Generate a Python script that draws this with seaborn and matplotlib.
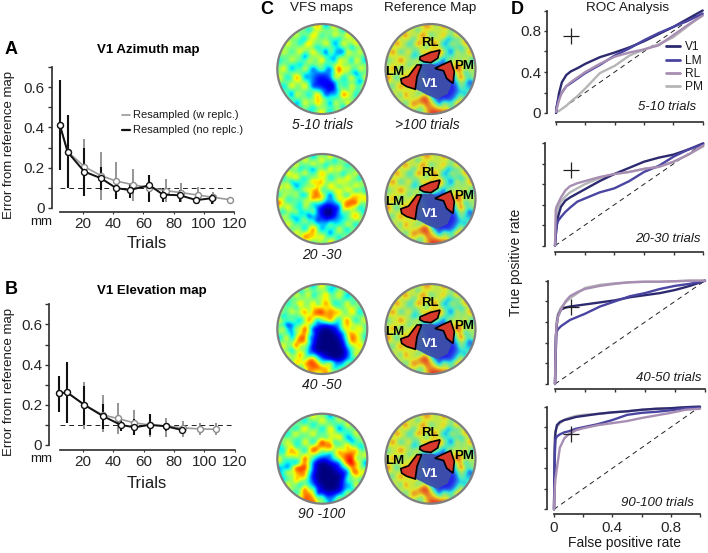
import numpy as np
import pandas as pd
import matplotlib
matplotlib.use("Agg")
import matplotlib.pyplot as plt
from matplotlib.colors import ListedColormap
from matplotlib.lines import Line2D
from matplotlib.patches import Circle, Polygon
import seaborn as sns

W, H = 708, 553

# panel A, values
a_black_x = [5, 10, 21, 32, 42, 51, 64, 73, 84, 95, 105]
a_black_y = [0.41, 0.278, 0.18, 0.147, 0.098, 0.088, 0.112, 0.065, 0.062, 0.038, 0.047]
a_black_lo = [0.19, 0.10, 0.06, 0.09, 0.045, 0.05, 0.03, 0.03, 0.03, 0.02, 0.02]
a_black_hi = [0.635, 0.46, 0.30, 0.205, 0.14, 0.12, 0.165, 0.10, 0.09, 0.06, 0.07]
a_gray_x = [5, 10, 21, 32, 42, 53, 64, 75, 85, 96, 106, 117]
a_gray_y = [0.41, 0.28, 0.205, 0.16, 0.133, 0.115, 0.10, 0.085, 0.075, 0.063, 0.052, 0.04]
a_gray_lo = [0.19, 0.10, 0.06, 0.04, 0.05, 0.035, 0.03, 0.03, 0.03, 0.02, 0.02, 0.02]
a_gray_hi = [0.63, 0.46, 0.345, 0.28, 0.23, 0.195, 0.15, 0.145, 0.125, 0.105, 0.08, 0.055]

# panel B
b_black_x = [4.6, 9.6, 21, 33, 45, 54, 64, 75, 85]
b_black_y = [0.257, 0.262, 0.20, 0.145, 0.10, 0.088, 0.10, 0.093, 0.075]
b_black_lo = [0.165, 0.11, 0.10, 0.08, 0.07, 0.05, 0.05, 0.07, 0.06]
b_black_hi = [0.345, 0.415, 0.295, 0.205, 0.13, 0.13, 0.155, 0.11, 0.09]
b_gray_x = [4.6, 9.6, 21, 33, 43, 54, 64, 75, 86, 97, 108]
b_gray_y = [0.257, 0.262, 0.20, 0.15, 0.132, 0.11, 0.10, 0.095, 0.085, 0.08, 0.078]
b_gray_lo = [0.165, 0.11, 0.08, 0.065, 0.055, 0.05, 0.04, 0.04, 0.04, 0.05, 0.05]
b_gray_hi = [0.345, 0.415, 0.315, 0.25, 0.208, 0.175, 0.15, 0.135, 0.12, 0.11, 0.11]

# panel D, one false positive grid for all the curves
fpr = [0, .005, .01, .02, .04, .07, .1, .15, .2, .3, .4, .5, .6, .7, .8, .9, 1]

roc1_v1 = [0, .05, .1, .19, .3, .37, .405, .44, .48, .545, .59, .64, .70, .77, .84, .92, 1.0]
roc1_lm = [.03, .07, .1, .15, .2, .26, .29, .34, .39, .47, .56, .63, .71, .78, .84, .9, .97]
roc1_rl = [.01, .04, .07, .12, .2, .26, .3, .35, .4, .48, .55, .59, .62, .66, .76, .86, .95]
roc1_pm = [0, .01, .015, .02, .04, .07, .11, .17, .24, .39, .46, .56, .62, .67, .74, .85, .96]

roc2_v1 = [0, .1, .17, .28, .38, .44, .47, .51, .55, .63, .7, .76, .82, .86, .89, .94, 1]
roc2_lm = [0, .1, .2, .24, .28, .33, .37, .43, .46, .52, .56, .63, .72, .78, .87, .94, .99]
roc2_rl = [0, .35, .38, .41, .47, .54, .58, .61, .63, .67, .70, .72, .75, .77, .82, .89, .98]
roc2_pm = [0, .15, .3, .37, .43, .48, .52, .56, .6, .66, .7, .72, .75, .77, .82, .89, .97]

roc3_v1 = [0, .45, .55, .66, .72, .74, .75, .76, .77, .79, .81, .84, .86, .88, .91, .95, 1]
roc3_lm = [0, .3, .5, .53, .56, .59, .62, .65, .68, .75, .8, .85, .88, .92, .95, .97, 1]
roc3_rl = [0, .4, .57, .65, .72, .8, .85, .89, .92, .95, .97, .985, .99, .99, .995, 1, 1]
roc3_pm = [0, .35, .6, .68, .74, .79, .83, .88, .93, .96, .975, .985, .99, .99, .995, 1, 1]

roc4_v1 = [0, .6, .75, .82, .85, .87, .88, .9, .91, .93, .945, .955, .97, .98, .985, .995, 1]
roc4_lm = [0, .5, .68, .71, .73, .75, .76, .785, .8, .83, .87, .92, .94, .95, .965, .985, .99]
roc4_rl = [0, .2, .3, .4, .6, .69, .73, .77, .79, .82, .84, .86, .89, .915, .94, .97, .98]
roc4_pm = [0, .7, .76, .8, .84, .87, .89, .91, .92, .93, .945, .955, .97, .98, .985, .995, 1]

roc_cross = [(.1, .753), (.105, .74), (.105, .75), (.116, .734)]
roc_titles = ["5-10 trials", "20-30 trials", "40-50 trials", "90-100 trials"]

# panel C, coarse reading of the maps: 0 deep blue .. 9 dark red
map_5_10 = [
    [4, 4, 4, 4, 4, 5, 5, 4, 5, 4, 4, 4, 4, 4],
    [4, 4, 4, 4, 5, 4, 6, 5, 4, 5, 5, 4, 4, 4],
    [4, 4, 5, 4, 4, 6, 4, 5, 3, 5, 4, 6, 4, 4],
    [4, 5, 4, 5, 6, 4, 5, 4, 5, 3, 5, 4, 5, 4],
    [4, 4, 6, 4, 4, 5, 4, 3, 3, 2, 4, 5, 4, 4],
    [5, 4, 4, 5, 3, 4, 7, 4, 3, 4, 6, 4, 5, 4],
    [4, 5, 3, 4, 5, 4, 5, 3, 5, 6, 4, 5, 4, 5],
    [5, 4, 5, 4, 3, 3, 2, 2, 3, 7, 5, 3, 4, 4],
    [4, 5, 4, 7, 4, 2, 1, 1, 2, 5, 4, 5, 3, 4],
    [5, 4, 5, 4, 5, 3, 1, 1, 0, 3, 3, 4, 4, 5],
    [4, 4, 3, 5, 4, 5, 4, 2, 1, 3, 8, 6, 3, 4],
    [4, 5, 4, 4, 5, 4, 7, 4, 4, 4, 5, 4, 5, 4],
    [4, 4, 5, 3, 4, 5, 4, 5, 3, 5, 4, 5, 4, 4],
    [4, 4, 4, 4, 5, 4, 5, 4, 5, 4, 4, 4, 4, 4],
]
map_20_30 = [
    [4, 4, 4, 4, 5, 4, 5, 4, 5, 4, 4, 4, 4, 4],
    [4, 4, 5, 4, 4, 5, 4, 5, 4, 5, 4, 5, 4, 4],
    [4, 5, 4, 5, 4, 3, 5, 4, 5, 4, 5, 4, 4, 4],
    [5, 4, 6, 4, 5, 4, 5, 6, 4, 5, 4, 5, 4, 4],
    [4, 5, 4, 3, 4, 5, 6, 4, 5, 4, 6, 4, 5, 4],
    [5, 4, 5, 4, 4, 7, 7, 4, 5, 7, 4, 5, 4, 5],
    [5, 6, 4, 3, 4, 6, 8, 4, 3, 6, 4, 6, 7, 5],
    [6, 5, 4, 5, 6, 5, 4, 2, 2, 3, 7, 8, 5, 4],
    [5, 4, 5, 2, 3, 4, 1, 0, 0, 2, 8, 5, 4, 5],
    [4, 6, 4, 3, 4, 3, 2, 0, 0, 2, 3, 6, 5, 4],
    [5, 4, 5, 4, 3, 4, 3, 2, 3, 3, 4, 4, 5, 4],
    [4, 5, 4, 5, 4, 6, 4, 4, 3, 4, 4, 5, 4, 5],
    [4, 4, 5, 4, 7, 7, 5, 4, 4, 5, 4, 4, 5, 4],
    [4, 4, 4, 5, 4, 6, 5, 4, 5, 4, 5, 4, 4, 4],
]
map_40_50 = [
    [4, 4, 4, 4, 5, 4, 5, 4, 4, 5, 4, 4, 4, 4],
    [4, 4, 4, 5, 4, 5, 4, 5, 4, 4, 5, 4, 4, 4],
    [4, 5, 4, 4, 5, 4, 5, 6, 4, 5, 3, 4, 5, 4],
    [4, 4, 5, 6, 4, 5, 6, 5, 6, 3, 5, 6, 4, 4],
    [5, 4, 4, 5, 6, 7, 8, 6, 8, 5, 4, 5, 4, 5],
    [4, 5, 3, 4, 5, 6, 5, 7, 6, 5, 6, 4, 5, 4],
    [4, 3, 2, 4, 6, 4, 1, 0, 1, 2, 7, 6, 5, 4],
    [5, 4, 2, 5, 7, 3, 0, 0, 0, 1, 6, 7, 5, 4],
    [4, 5, 4, 8, 8, 2, 0, 0, 0, 0, 2, 8, 6, 5],
    [5, 4, 5, 7, 5, 1, 0, 0, 0, 0, 1, 7, 5, 4],
    [4, 5, 4, 5, 4, 1, 0, 0, 0, 0, 0, 3, 6, 4],
    [4, 4, 5, 6, 6, 8, 3, 1, 0, 0, 1, 4, 3, 4],
    [4, 5, 4, 5, 7, 8, 8, 7, 5, 3, 4, 3, 2, 4],
    [4, 4, 4, 5, 4, 6, 7, 5, 5, 5, 4, 5, 4, 4],
]
map_90_100 = [
    [4, 4, 4, 4, 5, 4, 5, 4, 4, 5, 4, 4, 4, 4],
    [4, 4, 5, 4, 4, 5, 4, 5, 4, 3, 5, 4, 4, 4],
    [4, 5, 4, 5, 5, 4, 5, 4, 5, 4, 3, 5, 4, 4],
    [4, 4, 5, 4, 4, 5, 3, 5, 6, 5, 4, 3, 5, 4],
    [5, 4, 4, 3, 5, 4, 6, 7, 6, 4, 5, 4, 4, 5],
    [4, 5, 8, 5, 4, 7, 8, 7, 5, 4, 5, 6, 4, 4],
    [4, 4, 5, 4, 6, 5, 3, 2, 4, 7, 8, 8, 5, 4],
    [5, 3, 3, 4, 7, 3, 0, 0, 1, 2, 7, 9, 6, 4],
    [4, 3, 5, 8, 9, 2, 0, 0, 0, 1, 2, 7, 5, 4],
    [2, 4, 5, 7, 5, 1, 0, 0, 0, 0, 1, 7, 6, 5],
    [4, 5, 4, 5, 4, 2, 0, 0, 0, 0, 2, 3, 5, 4],
    [4, 4, 5, 4, 6, 3, 1, 0, 0, 0, 3, 3, 5, 4],
    [4, 5, 4, 5, 8, 8, 3, 1, 1, 2, 4, 4, 5, 4],
    [4, 4, 5, 4, 7, 6, 5, 4, 4, 5, 4, 4, 4, 4],
]
map_reference = [
    [5, 5, 5, 5, 5, 6, 5, 7, 5, 6, 5, 5, 5, 5],
    [5, 5, 6, 5, 6, 5, 6, 5, 5, 5, 6, 5, 5, 5],
    [5, 6, 5, 6, 5, 6, 6, 5, 6, 4, 3, 5, 6, 5],
    [5, 5, 6, 4, 5, 6, 5, 6, 4, 3, 4, 5, 5, 5],
    [5, 6, 5, 5, 3, 4, 7, 7, 7, 3, 4, 4, 5, 6],
    [6, 5, 6, 5, 5, 3, 6, 6, 4, 3, 5, 6, 4, 5],
    [5, 6, 5, 6, 5, 4, 2, 1, 1, 3, 7, 7, 3, 5],
    [5, 5, 6, 5, 6, 5, 1, 1, 1, 1, 4, 7, 4, 5],
    [6, 5, 5, 6, 7, 5, 1, 1, 1, 1, 2, 7, 4, 3],
    [5, 6, 5, 6, 5, 5, 1, 1, 1, 1, 1, 3, 3, 2],
    [5, 5, 6, 5, 6, 5, 1, 1, 1, 1, 1, 3, 4, 3],
    [5, 6, 5, 6, 5, 8, 8, 2, 1, 1, 2, 6, 4, 5],
    [5, 5, 6, 5, 6, 6, 8, 6, 4, 5, 5, 6, 5, 5],
    [5, 5, 5, 6, 5, 5, 6, 8, 8, 6, 5, 5, 5, 5],
]
# small round spots of the background, hand placed, on a finer grid
map_spots = [
    [0, 1, 0, -1, 0, 1, 0, 0, 0, 1, 0, -1, 0, 1, 0, 0, 0, 1, 0, -1, 0],
    [0, 0, 0, 0, 0, 0, 0, -1, 0, 0, 0, 0, 0, 0, 0, -1, 0, 0, 0, 0, 0],
    [1, 0, -1, 0, 1, 0, 0, 0, 1, 0, -1, 0, 0, 1, 0, 0, 1, 0, -1, 0, 1],
    [0, 0, 0, 0, 0, 0, -1, 0, 0, 0, 0, 0, 0, 0, -1, 0, 0, 0, 0, 0, 0],
    [-1, 0, 1, 0, 0, -1, 0, 1, 0, 0, 0, 1, 0, -1, 0, 1, 0, 0, 1, 0, -1],
    [0, 0, 0, 0, 0, 0, 0, 0, 0, -1, 0, 0, 0, 0, 0, 0, 0, -1, 0, 0, 0],
    [0, 1, 0, -1, 0, 1, 0, 0, 1, 0, 0, -1, 1, 0, 0, -1, 1, 0, 0, 1, 0],
    [0, 0, 0, 0, 0, 0, -1, 0, 0, 0, 0, 0, 0, 0, 0, 0, 0, 0, 0, 0, 0],
    [-1, 0, 0, 1, 0, 0, 0, 1, 0, -1, 1, 0, 0, -1, 1, 0, 0, -1, 1, 0, -1],
    [0, 0, 0, 0, 0, -1, 0, 0, 0, 0, 0, 0, 0, 0, 0, 0, 0, 0, 0, 0, 0],
    [0, 1, 0, -1, 0, 0, 1, 0, -1, 0, 1, 0, -1, 0, 1, 0, 1, 0, 0, 1, 0],
    [0, 0, 0, 0, 0, 0, 0, 0, 0, 0, 0, 0, 0, 0, 0, 0, 0, 0, -1, 0, 0],
    [1, 0, -1, 0, 1, 0, -1, 0, 1, 0, 0, -1, 0, 1, 0, -1, 0, 1, 0, 0, 1],
    [0, 0, 0, 0, 0, 0, 0, 0, 0, 0, 0, 0, 0, 0, 0, 0, 0, 0, 0, -1, 0],
    [0, -1, 0, 1, 0, 0, 1, 0, -1, 0, 1, 0, 0, -1, 1, 0, 0, 1, 0, 0, 1],
    [0, 0, 0, 0, 0, 0, 0, 0, 0, 0, 0, 0, 0, 0, 0, 0, -1, 0, 0, 0, 0],
    [1, 0, 0, -1, 1, 0, 0, -1, 0, 1, 0, -1, 1, 0, 0, 1, 0, 0, -1, 1, 0],
    [0, 0, 0, 0, 0, 0, 0, 0, 0, 0, 0, 0, 0, 0, 0, 0, 0, 0, 0, 0, 0],
    [0, 1, 0, 0, -1, 0, 1, 0, 0, 1, 0, 0, -1, 1, 0, 0, 1, 0, 1, 0, -1],
    [0, 0, 0, 0, 0, 0, 0, 0, -1, 0, 0, 0, 0, 0, 0, -1, 0, 0, 0, 0, 0],
    [-1, 0, 1, 0, 0, 1, 0, -1, 0, 0, 1, 0, -1, 0, 1, 0, 0, 1, 0, -1, 0],
]
map_rows = [map_5_10, map_20_30, map_40_50, map_90_100]
map_captions = ["5-10 trials", "20 -30", "40 -50", "90 -100"]

# areas on the reference map, in fractions of the circle radius
v1_area = [(-.19, -.09), (.03, -.09), (.25, .02), (.33, .24), (.44, .35), (.36, .54), (.14, .64),
           (-.08, .55), (-.2, .48), (-.32, .43), (-.29, .17)]
rl_area = [(-.23, -.27), (0, -.37), (.21, -.42), (.16, -.24), (.01, -.14), (-.15, -.16), (-.24, -.21)]
pm_area = [(.10, -.01), (.25, -.09), (.45, -.18), (.53, .06), (.50, .32), (.36, .21), (.29, .04)]
lm_area = [(-.66, .22), (-.49, .16), (-.30, -.09), (-.20, -.09), (-.30, .17), (-.34, .45), (-.53, .39), (-.64, .32)]

COL_V1 = "#2d2a70"
COL_LM = "#4b45a2"
COL_RL = "#a78eb2"
COL_PM = "#b6b6b6"

sns.set_theme(style="ticks")
plt.rcParams['font.family'] = ['Liberation Sans', 'DejaVu Sans']
plt.rcParams['text.color'] = '#1a1a1a'

fig = plt.figure(figsize=(W / 100, H / 100), dpi=100)


def px_axes(left, top, right, bottom):
    return fig.add_axes([left / W, 1 - bottom / H, (right - left) / W, (bottom - top) / H])


def put(x, y, s, **kw):
    kw.setdefault("ha", "center")
    kw.setdefault("va", "center")
    fig.text(x / W, 1 - y / H, s, **kw)


def error_panel(ax, black, gray, dash_end):
    gx, gy, glo, ghi = gray
    kx, ky, klo, khi = black
    ax.vlines(gx, glo, ghi, color="#8c8c8c", lw=1.3, clip_on=False)
    ax.vlines(kx, klo, khi, color="#111111", lw=1.5, clip_on=False)
    ax.plot([ax.get_xlim()[0], dash_end], [0.1, 0.1], color="#222222", lw=0.7, ls=(0, (5, 4)))
    sns.lineplot(x=gx, y=gy, ax=ax, color="#9a9a9a", lw=1.2, marker="o", ms=4.3, sort=False,
                 markerfacecolor="white", markeredgecolor="#8c8c8c", markeredgewidth=1, clip_on=False)
    sns.lineplot(x=kx, y=ky, ax=ax, color="#111111", lw=1.4, marker="o", ms=4.3, sort=False,
                 markerfacecolor="white", markeredgecolor="#111111", markeredgewidth=1, clip_on=False)
    ax.set_ylim(0, 0.7)
    ax.set_yticks(np.arange(0, 0.71, 0.1))
    ax.set_yticklabels(["0", "", "0.2", "", "0.4", "", "0.6", ""], fontsize=10)
    ax.set_xticks([20, 40, 60, 80, 100, 120])
    ax.set_xticklabels(["20", "40", "60", "80", "100", "120"], fontsize=10)
    ax.tick_params(axis="y", length=3, width=1, pad=2, color="#333333")
    ax.tick_params(axis="x", length=1.5, width=0.8, pad=2, color="#333333")
    ax.set_xlabel("")
    ax.set_ylabel("")
    sns.despine(ax=ax)
    ax.spines["left"].set_position(("outward", 6))
    ax.spines["bottom"].set_position(("outward", 3.2))
    ax.spines["left"].set_color("#333333")
    ax.spines["bottom"].set_color("#333333")
    ax.patch.set_alpha(0)


# A
ax_a = px_axes(60, 67.3, 234.3, 207.7)
ax_a.set_xlim(5, 120)
error_panel(ax_a, (a_black_x, a_black_y, a_black_lo, a_black_hi),
            (a_gray_x, a_gray_y, a_gray_lo, a_gray_hi), 118)
ax_a.legend(handles=[Line2D([], [], color="#9a9a9a", lw=1.2), Line2D([], [], color="#111111", lw=1.6)],
            labels=["Resampled (w replc.)", "Resampled (no replc.)"],
            loc="upper left", bbox_to_anchor=(122 / W, 1 - 110.5 / H), bbox_transform=fig.transFigure,
            frameon=False, fontsize=8, handlelength=0.72, handletextpad=0.27,
            labelspacing=0.44, borderpad=0, borderaxespad=0)

# B
ax_b = px_axes(60, 304.3, 234.7, 445)
ax_b.set_xlim(5, 120)
error_panel(ax_b, (b_black_x, b_black_y, b_black_lo, b_black_hi),
            (b_gray_x, b_gray_y, b_gray_lo, b_gray_hi), 120)
ax_b.spines["left"].set_position(("outward", 7.7))
ax_b.spines["bottom"].set_position(("outward", 3.6))

put(11, 49, "A", fontsize=13, fontweight="bold", color="black")
put(11, 289, "B", fontsize=13, fontweight="bold", color="black")
put(267, 9, "C", fontsize=13, fontweight="bold", color="black")
put(517, 10, "D", fontsize=13, fontweight="bold", color="black")
put(148, 50, "V1 Azimuth map", fontsize=9.5, fontweight="bold", color="black")
put(152, 291, "V1 Elevation map", fontsize=9.5, fontweight="bold", color="black")
put(9, 145, "Error from reference map", fontsize=9.5, rotation=90)
put(9, 382, "Error from reference map", fontsize=9.5, rotation=90)
put(147, 243, "Trials", fontsize=12)
put(147, 484, "Trials", fontsize=12)
put(41, 222, "mm", fontsize=9.5)
put(41, 458.5, "mm", fontsize=9.5)

# C
base = plt.get_cmap("jet")(np.linspace(0, 1, 256))
muted = base.copy()
muted[:, :3] = 0.76 * base[:, :3] + 0.24 * np.array([0.62, 0.62, 0.62])
muted_cmap = ListedColormap(muted)

map_x = [322.3, 430.5]
map_y = [69, 199, 329, 458.7]
RAD = 45


def refine(grid, spots):
    # coarse reading on the spot grid, spots only show on the background
    grid = np.array(grid, dtype=float)
    old = np.linspace(0, 1, grid.shape[0])
    new = np.linspace(0, 1, spots.shape[0])
    rows = np.array([np.interp(new, old, r) for r in grid])
    fine = np.array([np.interp(new, old, c) for c in rows.T]).T
    weight = np.clip(fine - 2, 0, 1) * np.clip(7.5 - fine, 0, 1)
    return fine + 2.2 * weight * spots


def draw_map(cx, cy, grid, cmap):
    ax = px_axes(cx - RAD - 2, cy - RAD - 2, cx + RAD + 2, cy + RAD + 2)
    ax.set_xlim(-47 / 45, 47 / 45)
    ax.set_ylim(47 / 45, -47 / 45)
    im = ax.imshow(grid, cmap=cmap, vmin=0, vmax=9, extent=(-1, 1, 1, -1),
                   interpolation="bicubic", interpolation_stage="data")
    ring = Circle((0, 0), 1, transform=ax.transData, fc="none", ec="#7f7f7f", lw=1.6, zorder=5)
    ax.add_patch(ring)
    im.set_clip_path(ring)
    ax.set_aspect("auto")
    ax.axis("off")
    return ax


spots = np.array(map_spots, dtype=float)
for k, (cy, grid, cap) in enumerate(zip(map_y, map_rows, map_captions)):
    draw_map(map_x[0], cy, refine(grid, np.rot90(spots, k)), "jet")
    ax_ref = draw_map(map_x[1], cy, refine(map_reference, spots), muted_cmap)
    ax_ref.add_patch(Polygon(v1_area, closed=True, fc="#3d50a6", ec="#3d50a6", lw=1.5, alpha=0.92, zorder=3))
    for area in (rl_area, pm_area, lm_area):
        ax_ref.add_patch(Polygon(area, closed=True, fc="#d8392b", ec="black", lw=1.2, zorder=4))
    for lab, lx, ly, col in [("RL", -.01, -.58, "black"), ("LM", -.8, .06, "black"),
                             ("PM", .75, -.07, "black"), ("V1", 0, .34, "white")]:
        ax_ref.text(lx, ly, lab, fontsize=9.5, fontweight="bold", color=col, ha="center", va="center", zorder=6)

put(322, 8, "VFS maps", fontsize=9.7)
put(430, 8, "Reference Map", fontsize=9.7)
put(322.7, 125, "5-10 trials", fontsize=10, style="italic")
put(427.7, 125, ">100 trials", fontsize=10, style="italic")
put(322, 255, map_captions[1], fontsize=10, style="italic")
put(322, 385, map_captions[2], fontsize=10, style="italic")
put(322, 514, map_captions[3], fontsize=10, style="italic")

# D
roc_boxes = [(556, 10.5, 702.7, 113), (555, 143.3, 703.3, 245.7),
             (555, 280.7, 705, 384), (554, 406.7, 700, 509.3)]
roc_spine = [(6.2, 6.2), (7, 4.8), (5.2, 3.4), (5.2, 3.6)]
roc_text = [(696, 107), (701, 239), (701, 378), (694, 503)]
roc_curves = [(roc1_pm, roc1_v1, roc1_lm, roc1_rl), (roc2_pm, roc2_v1, roc2_lm, roc2_rl),
              (roc3_pm, roc3_v1, roc3_lm, roc3_rl), (roc4_pm, roc4_v1, roc4_lm, roc4_rl)]

for i, box in enumerate(roc_boxes):
    ax = px_axes(*box)
    ax.patch.set_alpha(0)
    ax.plot([0, 1], [0, 1], color="#222222", lw=0.7, ls=(0, (5, 4)))
    curves = pd.DataFrame({"fpr": fpr, "PM": roc_curves[i][0], "V1": roc_curves[i][1],
                           "LM": roc_curves[i][2], "RL": roc_curves[i][3]})
    long = curves.melt(id_vars="fpr", var_name="area", value_name="tpr")
    sns.lineplot(data=long, x="fpr", y="tpr", hue="area", ax=ax, lw=1.7, legend=False, errorbar=None,
                 palette={"PM": COL_PM, "V1": COL_V1, "LM": COL_LM, "RL": COL_RL}, clip_on=False)
    ax.plot(*roc_cross[i], marker="+", ms=11, mew=0.9, color="#222222", ls="none", zorder=6)
    ax.set_xlim(0, 1)
    ax.set_ylim(0, 1)
    ax.set_xticks(np.arange(0, 1.01, 0.2))
    ax.set_yticks(np.arange(0, 1.01, 0.2))
    ax.set_xticklabels(["0", "", "0.4", "", "0.8", ""] if i == 3 else [""] * 6, fontsize=10)
    ax.set_yticklabels(["0", "", "0.4", "", "0.8", ""] if i == 0 else [""] * 6, fontsize=10)
    ax.tick_params(length=2.5, width=1, pad=2, color="#333333")
    ax.set_xlabel("")
    ax.set_ylabel("")
    sns.despine(ax=ax)
    ax.spines["left"].set_position(("outward", roc_spine[i][0]))
    ax.spines["bottom"].set_position(("outward", roc_spine[i][1]))
    ax.spines["left"].set_color("#333333")
    ax.spines["bottom"].set_color("#333333")
    put(roc_text[i][0], roc_text[i][1], roc_titles[i], fontsize=9.5, style="italic", ha="right")
    if i == 0:
        names = ["V1", "LM", "RL", "PM"]
        cols = [COL_V1, COL_LM, COL_RL, COL_PM]
        ax.legend(handles=[Line2D([], [], color=c, lw=2) for c in cols], labels=names,
                  loc="upper left", bbox_to_anchor=(665.7 / W, 1 - 41.5 / H), bbox_transform=fig.transFigure,
                  frameon=False, fontsize=8.6, handlelength=1.2, handletextpad=0.42,
                  labelspacing=0.1, borderpad=0, borderaxespad=0)

put(627.7, 8, "ROC Analysis", fontsize=9.7)
put(516, 262, "True positive rate", fontsize=10, rotation=90)
put(625, 543, "False positive rate", fontsize=10)

fig.savefig("out.png", dpi=100)
